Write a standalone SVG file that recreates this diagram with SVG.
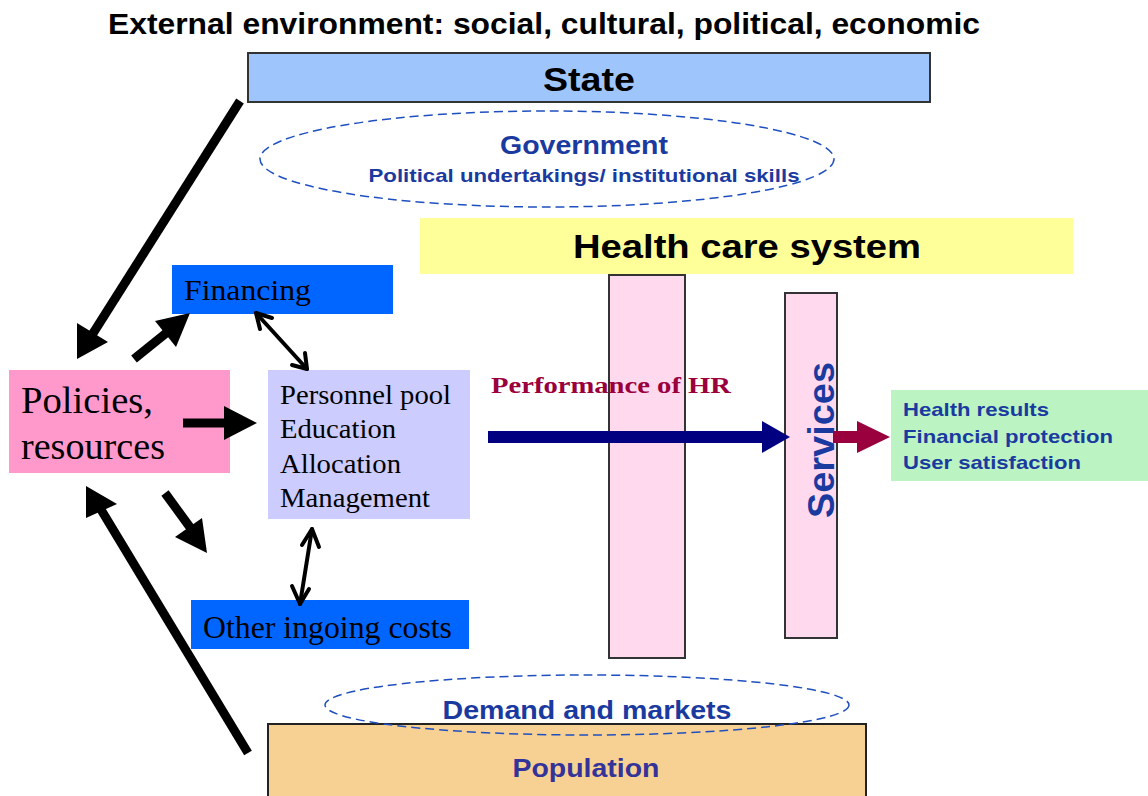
<svg xmlns="http://www.w3.org/2000/svg" width="1148" height="796" viewBox="0 0 1148 796">
<style>
.sans{font-family:"Liberation Sans",Arial,sans-serif;font-weight:bold}
.serif{font-family:"Liberation Serif","Times New Roman",serif}
.blue{fill:#1a3aa0}
.ell{fill:none;stroke:#1f4fbf;stroke-width:1.5;stroke-dasharray:9 5}
.thick{stroke:#000;stroke-width:9;fill:none}
.thin{stroke:#000;stroke-width:4;fill:none;stroke-linecap:round;stroke-linejoin:round}
</style>
<rect width="1148" height="796" fill="#fff"/>
<text class="sans" x="108" y="34" font-size="29" textLength="872" lengthAdjust="spacingAndGlyphs">External environment: social, cultural, political, economic</text>

<g id="state">
<rect x="248" y="53" width="682" height="49" fill="#9fc5fd" stroke="#333" stroke-width="2"/>
<text class="sans" x="589" y="91" font-size="33" text-anchor="middle" textLength="92" lengthAdjust="spacingAndGlyphs">State</text>
</g>

<g id="government">
<ellipse class="ell" cx="547" cy="159" rx="287" ry="48"/>
<text class="sans blue" x="584" y="154" font-size="26" text-anchor="middle" textLength="168" lengthAdjust="spacingAndGlyphs">Government</text>
<text class="sans blue" x="584" y="182" font-size="19" text-anchor="middle" textLength="431" lengthAdjust="spacingAndGlyphs">Political undertakings/ institutional skills</text>
</g>

<g id="health-care-system">
<rect x="420" y="218" width="653" height="56" fill="#ffff99"/>
<text class="sans" x="747" y="258" font-size="34" text-anchor="middle" textLength="348" lengthAdjust="spacingAndGlyphs">Health care system</text>
</g>

<g id="hr-column">
<rect x="609" y="275" width="76" height="383" fill="#ffd9ee" stroke="#333" stroke-width="2"/>
</g>

<g id="services">
<rect x="785" y="293" width="52" height="345" fill="#ffd9ee" stroke="#333" stroke-width="2"/>
<text class="sans blue" transform="translate(834 440) rotate(-90)" font-size="37" text-anchor="middle" textLength="156" lengthAdjust="spacingAndGlyphs">Services</text>
</g>

<g id="financing">
<rect x="172" y="265" width="221" height="49" fill="#0066ff"/>
<text class="serif" x="184" y="300" font-size="29" textLength="127" lengthAdjust="spacingAndGlyphs">Financing</text>
</g>

<g id="policies">
<rect x="9" y="370" width="221" height="103" fill="#ff99cc"/>
<text class="serif" x="21" y="413" font-size="37" textLength="132" lengthAdjust="spacingAndGlyphs">Policies,</text>
<text class="serif" x="21" y="459" font-size="37" textLength="144" lengthAdjust="spacingAndGlyphs">resources</text>
</g>

<g id="personnel">
<rect x="268" y="370" width="202" height="149" fill="#ccccff"/>
<text class="serif" x="280" y="404" font-size="27" textLength="171" lengthAdjust="spacingAndGlyphs">Personnel pool</text>
<text class="serif" x="280" y="438" font-size="27" textLength="116" lengthAdjust="spacingAndGlyphs">Education</text>
<text class="serif" x="280" y="473" font-size="27" textLength="121" lengthAdjust="spacingAndGlyphs">Allocation</text>
<text class="serif" x="280" y="507" font-size="27" textLength="150" lengthAdjust="spacingAndGlyphs">Management</text>
</g>

<g id="other-costs">
<rect x="191" y="600" width="278" height="49" fill="#0066ff"/>
<text class="serif" x="203" y="638" font-size="31" textLength="249" lengthAdjust="spacingAndGlyphs">Other ingoing costs</text>
</g>

<g id="results">
<rect x="891" y="390" width="257" height="91" fill="#bbf3c3"/>
<text class="sans blue" x="903" y="416" font-size="19" textLength="146" lengthAdjust="spacingAndGlyphs">Health results</text>
<text class="sans blue" x="903" y="443" font-size="19" textLength="210" lengthAdjust="spacingAndGlyphs">Financial protection</text>
<text class="sans blue" x="903" y="469" font-size="19" textLength="178" lengthAdjust="spacingAndGlyphs">User satisfaction</text>
</g>

<g id="population">
<rect x="268" y="724" width="598" height="80" fill="#f7d194" stroke="#222" stroke-width="2"/>
<text class="sans" x="586" y="777" font-size="26" text-anchor="middle" fill="#333399" textLength="147" lengthAdjust="spacingAndGlyphs">Population</text>
</g>

<g id="demand">
<ellipse class="ell" cx="587" cy="705" rx="262" ry="30"/>
<text class="sans blue" x="587" y="719" font-size="25" text-anchor="middle" textLength="289" lengthAdjust="spacingAndGlyphs">Demand and markets</text>
</g>

<text class="serif" x="491" y="393" font-size="24" font-weight="bold" fill="#99003d" textLength="240" lengthAdjust="spacingAndGlyphs">Performance of HR</text>

<g id="connectors">
<!-- State to Policies -->
<line class="thick" x1="240" y1="101" x2="92" y2="335"/>
<polygon points="77,359 77,323 108,342"/>
<!-- Policies to Financing -->
<line class="thick" x1="134" y1="359" x2="170" y2="330"/>
<polygon points="190,313 155,321 176,347"/>
<!-- Policies to Personnel -->
<line class="thick" x1="183" y1="423" x2="226" y2="423"/>
<polygon points="257,423 224,406 224,440"/>
<!-- Policies to Other costs -->
<line class="thick" x1="165" y1="493" x2="192" y2="530"/>
<polygon points="207,553 175,537 202,518"/>
<!-- Population to Policies -->
<line class="thick" x1="248" y1="753" x2="100" y2="508"/>
<polygon points="86,486 86,518 117,504"/>
<!-- Financing <-> Personnel -->
<line class="thin" x1="256" y1="313" x2="307" y2="369"/>
<polyline class="thin" points="260,329 256,313 272,318"/>
<polyline class="thin" points="305,353 307,369 292,365"/>
<!-- Personnel <-> Other costs -->
<line class="thin" x1="312" y1="529" x2="300" y2="604"/>
<polyline class="thin" points="302,545 312,529 319,547"/>
<polyline class="thin" points="292,586 300,604 309,589"/>
<!-- HR performance to Services -->
<rect x="488" y="431" width="276" height="12" fill="#000080"/>
<polygon points="790,437 762,421 762,453" fill="#000080"/>
<!-- Services to results -->
<rect x="833" y="431" width="26" height="12" fill="#99003d"/>
<polygon points="890,437 857,421 857,453" fill="#99003d"/>
</g>
</svg>
